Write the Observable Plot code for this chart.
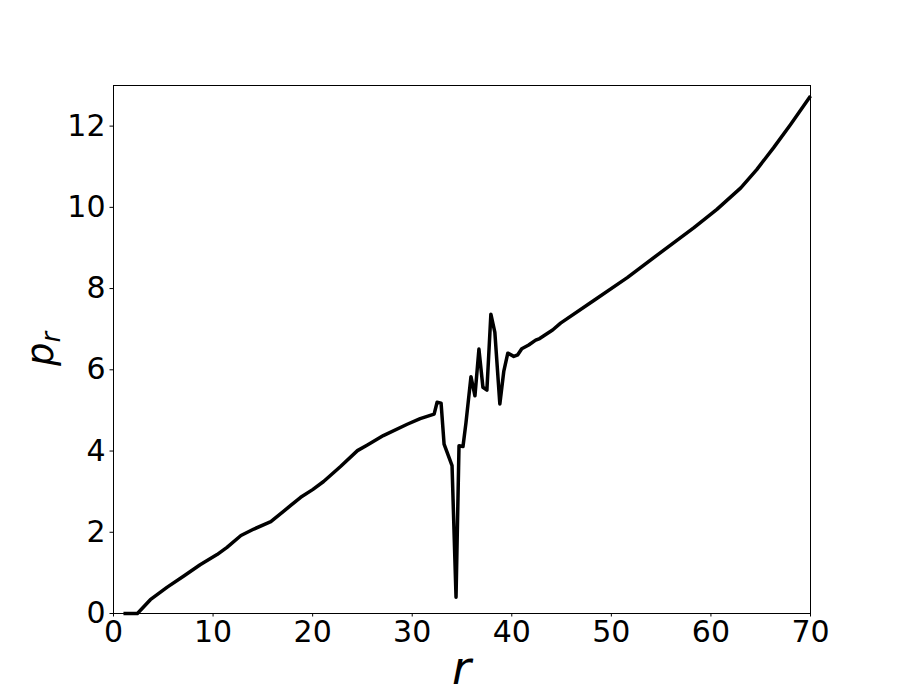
<!DOCTYPE html>
<html>
<head>
<meta charset="utf-8">
<script src="https://cdn.jsdelivr.net/npm/d3@7"></script>
<script src="https://cdn.jsdelivr.net/npm/@observablehq/plot@0.6"></script>
<style>
  html, body { margin: 0; padding: 0; background: #fff; }
</style>
</head>
<body>
<div id="chart"></div>
<script>
const rValues = [1.0, 2.4, 3.7, 5.4, 7.1, 8.7, 10.4, 11.4, 12.8, 14.1,
  15.8, 17.8, 18.8, 20.0, 21.1, 22.8, 24.5, 25.5, 27.1, 29.5,
  30.8, 32.2, 32.5, 32.9, 33.2, 34.0, 34.4, 34.7, 35.1, 35.4,
  35.9, 36.3, 36.7, 37.1, 37.5, 37.9, 38.3, 38.8, 39.2, 39.6,
  40.2, 40.6, 41.0, 41.7, 42.4, 42.8, 43.6, 44.1, 44.9, 48.2,
  51.6, 54.9, 58.3, 60.6, 63.0, 64.6, 66.3, 68.0, 70.0];
const prValues = [0, 0, 0.34, 0.65, 0.93, 1.20, 1.45, 1.63, 1.92, 2.08,
  2.26, 2.66, 2.86, 3.05, 3.25, 3.62, 4.01, 4.15, 4.38, 4.66,
  4.80, 4.91, 5.20, 5.18, 4.17, 3.64, 0.40, 4.13, 4.11, 4.70,
  5.83, 5.36, 6.51, 5.57, 5.50, 7.37, 6.92, 5.16, 5.97, 6.41,
  6.33, 6.37, 6.52, 6.61, 6.73, 6.77, 6.90, 6.98, 7.15, 7.70,
  8.27, 8.88, 9.50, 9.95, 10.48, 10.93, 11.47, 12.04, 12.74];
const xTicks = [0, 10, 20, 30, 40, 50, 60, 70];
const yTicks = [0, 2, 4, 6, 8, 10, 12];

const data = rValues.map((r, i) => ({r, p: prValues[i]}));

const W = 900, H = 700;
const mL = 113, mR = 90, mT = 85, mB = 87;

const chart = Plot.plot({
  width: W,
  height: H,
  marginLeft: mL,
  marginRight: mR,
  marginTop: mT,
  marginBottom: mB,
  style: {fontFamily: "DejaVu Sans", background: "#fff", color: "#000"},
  x: {domain: [0, 70]},
  y: {domain: [0, 13]},
  marks: [
    Plot.axisX({ticks: xTicks, tickSize: 3.5, tickPadding: 3.5, fontSize: 30, label: null, strokeWidth: 1}),
    Plot.axisY({ticks: yTicks, tickSize: 3.5, tickPadding: 4.5, fontSize: 30, label: null, strokeWidth: 1}),
    Plot.line(data, {x: "r", y: "p", stroke: "#000", strokeWidth: 3.5, strokeLinejoin: "round", strokeLinecap: "butt"}),
    Plot.frame({stroke: "#000", strokeWidth: 1})
  ]
});

document.getElementById("chart").appendChild(chart);

const svg = d3.select(chart);
// x-axis label
svg.append("text")
  .attr("x", (mL + (W - mR)) / 2)
  .attr("y", 684)
  .attr("text-anchor", "middle")
  .attr("font-family", "DejaVu Sans")
  .attr("font-style", "italic")
  .attr("font-size", 46)
  .attr("fill", "#000")
  .text("r");
// y-axis label
const yl = svg.append("text")
  .attr("transform", `translate(53,${(mT + (H - mB)) / 2}) rotate(-90)`)
  .attr("text-anchor", "middle")
  .attr("font-family", "DejaVu Sans")
  .attr("font-style", "italic")
  .attr("font-size", 37)
  .attr("fill", "#000");
yl.append("tspan").text("p");
yl.append("tspan").attr("font-size", 26).attr("dy", 7).text("r");
</script>
</body>
</html>
